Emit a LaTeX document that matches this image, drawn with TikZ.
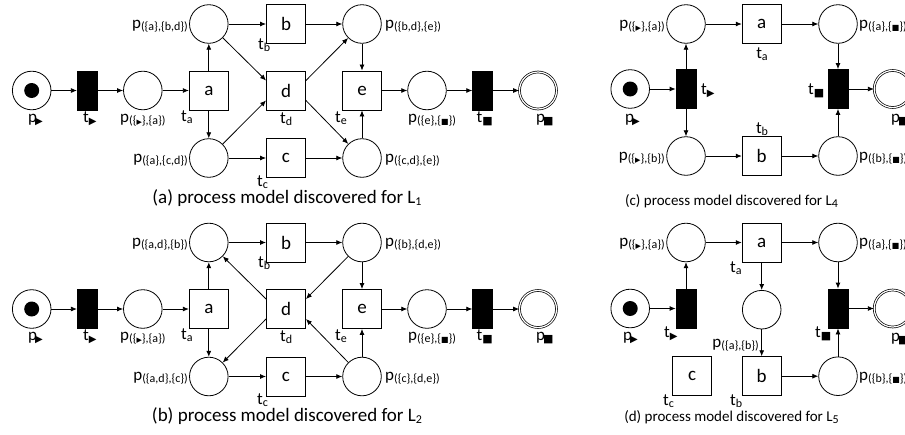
\documentclass[tikz,border=0pt]{standalone}
\usepackage{fontspec}
\setmainfont{Carlito}
\newfontfamily\symf{DejaVu Sans}
\usetikzlibrary{arrows.meta}
\newcommand\sbx[1]{\raisebox{-2pt}{\fontsize{12}{13}\selectfont #1}}
\newcommand\tri{{\symf\fontsize{7}{8}\selectfont ▶}}
\newcommand\trib{{\symf\fontsize{10}{11}\selectfont ▶}}
\newcommand\sqs{{\symf\fontsize{8}{9}\selectfont ■}}
\newcommand\sqb{{\symf\fontsize{11}{12}\selectfont ■}}
\tikzset{
  place/.style={circle, draw, line width=0.8pt, minimum size=38.6pt, inner sep=0pt},
  fin/.style={circle, draw, double, double distance=1.2pt, line width=0.7pt, minimum size=37pt, inner sep=0pt},
  token/.style={circle, fill=black, minimum size=15pt, inner sep=0pt},
  tr/.style={rectangle, draw, line width=0.9pt, minimum width=39pt, minimum height=39pt, inner sep=0pt, font=\fontsize{19}{22}\selectfont},
  btr/.style={rectangle, draw, fill=black, line width=0.8pt, minimum width=20pt, minimum height=39pt, inner sep=0pt},
  flow/.style={draw, line width=0.8pt, -{Latex[length=6pt,width=5pt]}},
  lbl/.style={inner sep=0pt, font=\fontsize{17}{20}\selectfont},
  capa/.style={inner sep=0pt, anchor=base, font=\fontsize{19}{22}\selectfont},
  capc/.style={inner sep=0pt, anchor=base, font=\fontsize{15}{18}\selectfont},
}
\begin{document}
\begin{tikzpicture}[x=1pt,y=-1pt]
\useasboundingbox (0,0) rectangle (905,434);
\clip (0,0) rectangle (905,434);

% ---------------- (a)
\node[place] (aps) at (31.7,90.5) {};
\node[token] (apst) at (aps) {};
\node[btr] (ats) at (87.3,90.5) {};
\node[place] (ap1) at (142.8,90.5) {};
\node[tr] (ata) at (208.8,90.5) {a};
\node[place] (ap2) at (208.8,24) {};
\node[place] (ap3) at (208.8,158) {};
\node[tr] (atb) at (286,24) {b};
\node[tr] (atd) at (286,90.5) {d};
\node[tr] (atc) at (286,158) {c};
\node[place] (ap4) at (362,24) {};
\node[place] (ap5) at (362,158) {};
\node[tr] (ate) at (362,90.5) {e};
\node[place] (ap6) at (427,90.5) {};
\node[btr] (atE) at (482.7,90.5) {};
\node[fin] (apE) at (538,90.5) {};

\draw[flow] (aps) -- (ats);
\draw[flow] (ats) -- (ap1);
\draw[flow] (ap1) -- (ata);
\draw[flow] (ata) -- (ap2);
\draw[flow] (ata) -- (ap3);
\draw[flow] (ap2) -- (atb);
\draw[flow] (ap3) -- (atc);
\draw[flow] (ap2) -- ([yshift=10pt]atd.west);
\draw[flow] (ap3) -- ([yshift=-10pt]atd.west);
\draw[flow] (atb) -- (ap4);
\draw[flow] (atc) -- (ap5);
\draw[flow] ([yshift=10pt]atd.east) -- (ap4);
\draw[flow] ([yshift=-10pt]atd.east) -- (ap5);
\draw[flow] (ap4) -- (ate);
\draw[flow] (ap5) -- (ate);
\draw[flow] (ate) -- (ap6);
\draw[flow] (ap6) -- (atE);
\draw[flow] (atE) -- (apE);

\node[lbl, anchor=base west] (alps) at (28,122) {p\kern-2pt\sbx{\trib}};
\node[lbl, anchor=base west] (alts) at (83,122) {t\sbx{\trib}};
\node[lbl, anchor=base west] (alp1) at (120,122) {p\sbx{(\{\tri\},\{a\})}};
\node[lbl, anchor=base east] (alp2) at (188,28) {p\sbx{(\{a\},\{b,d\})}};
\node[lbl, anchor=base east] (alp3) at (188,162) {p\sbx{(\{a\},\{c,d\})}};
\node[lbl, anchor=base west] (alta) at (181,121) {t\sbx{a}};
\node[lbl, anchor=base west] (altb) at (258,49) {t\sbx{b}};
\node[lbl, anchor=base west] (altd) at (280,123) {t\sbx{d}};
\node[lbl, anchor=base west] (altc) at (257,186) {t\sbx{c}};
\node[lbl, anchor=base west] (alp4) at (385,28) {p\sbx{(\{b,d\},\{e\})}};
\node[lbl, anchor=base west] (alp5) at (385,162) {p\sbx{(\{c,d\},\{e\})}};
\node[lbl, anchor=base west] (alte) at (335,122) {t\sbx{e}};
\node[lbl, anchor=base west] (alp6) at (408,122) {p\sbx{(\{e\},\{\sqs\})}};
\node[lbl, anchor=base west] (altE) at (476.5,122) {t\sbx{\sqb}};
\node[lbl, anchor=base west] (alpE) at (536,122) {p\kern-2pt\sbx{\sqb}};
\node[capa] (cap1) at (287,203) {(a) process model discovered for L\sbx{1}};

% ---------------- (b)
\begin{scope}[shift={(0,218.5)}]
\node[place] (bps) at (31.7,90.5) {};
\node[token] (bpst) at (bps) {};
\node[btr] (bts) at (87.3,90.5) {};
\node[place] (bp1) at (142.8,90.5) {};
\node[tr] (bta) at (208.8,90.5) {a};
\node[place] (bp2) at (208.8,24) {};
\node[place] (bp3) at (208.8,158) {};
\node[tr] (btb) at (286,24) {b};
\node[tr] (btd) at (286,90.5) {d};
\node[tr] (btc) at (286,158) {c};
\node[place] (bp4) at (362,24) {};
\node[place] (bp5) at (362,158) {};
\node[tr] (bte) at (362,90.5) {e};
\node[place] (bp6) at (427,90.5) {};
\node[btr] (btE) at (482.7,90.5) {};
\node[fin] (bpE) at (538,90.5) {};

\draw[flow] (bps) -- (bts);
\draw[flow] (bts) -- (bp1);
\draw[flow] (bp1) -- (bta);
\draw[flow] (bta) -- (bp2);
\draw[flow] (bta) -- (bp3);
\draw[flow] (bp2) -- (btb);
\draw[flow] (bp3) -- (btc);
\draw[flow] ([yshift=10pt]btd.west) -- (bp2);
\draw[flow] ([yshift=-10pt]btd.west) -- (bp3);
\draw[flow] (btb) -- (bp4);
\draw[flow] (btc) -- (bp5);
\draw[flow] (bp4) -- ([yshift=10pt]btd.east);
\draw[flow] (bp5) -- ([yshift=-10pt]btd.east);
\draw[flow] (bp4) -- (bte);
\draw[flow] (bp5) -- (bte);
\draw[flow] (bte) -- (bp6);
\draw[flow] (bp6) -- (btE);
\draw[flow] (btE) -- (bpE);

\node[lbl, anchor=base west] (blps) at (28,122) {p\kern-2pt\sbx{\trib}};
\node[lbl, anchor=base west] (blts) at (83,122) {t\sbx{\trib}};
\node[lbl, anchor=base west] (blp1) at (120,122) {p\sbx{(\{\tri\},\{a\})}};
\node[lbl, anchor=base east] (blp2) at (188,28) {p\sbx{(\{a,d\},\{b\})}};
\node[lbl, anchor=base east] (blp3) at (188,162) {p\sbx{(\{a,d\},\{c\})}};
\node[lbl, anchor=base west] (blta) at (181,121) {t\sbx{a}};
\node[lbl, anchor=base west] (bltb) at (258,49) {t\sbx{b}};
\node[lbl, anchor=base west] (bltd) at (280,123) {t\sbx{d}};
\node[lbl, anchor=base west] (bltc) at (257,186) {t\sbx{c}};
\node[lbl, anchor=base west] (blp4) at (385,28) {p\sbx{(\{b\},\{d,e\})}};
\node[lbl, anchor=base west] (blp5) at (385,162) {p\sbx{(\{c\},\{d,e\})}};
\node[lbl, anchor=base west] (blte) at (335,122) {t\sbx{e}};
\node[lbl, anchor=base west] (blp6) at (408,122) {p\sbx{(\{e\},\{\sqs\})}};
\node[lbl, anchor=base west] (bltE) at (476.5,122) {t\sbx{\sqb}};
\node[lbl, anchor=base west] (blpE) at (536,122) {p\kern-2pt\sbx{\sqb}};
\node[capa] (cap2) at (287,203) {(b) process model discovered for L\sbx{2}};
\end{scope}

% ---------------- (c)
\node[place] (cps) at (630.2,89) {};
\node[token] (cpst) at (cps) {};
\node[btr] (cts) at (686,89) {};
\node[place] (cpa) at (686,24) {};
\node[tr] (cta) at (761.7,24) {a};
\node[place] (cpb) at (838,24) {};
\node[btr] (ctE) at (838,89) {};
\node[fin] (cpE) at (892.7,89) {};
\node[place] (cpc) at (686,156) {};
\node[tr] (ctb) at (761.7,156) {b};
\node[place] (cpd) at (838,156) {};

\draw[flow] (cps) -- (cts);
\draw[flow] (cts) -- (cpa);
\draw[flow] (cts) -- (cpc);
\draw[flow] (cpa) -- (cta);
\draw[flow] (cta) -- (cpb);
\draw[flow] (cpb) -- (ctE);
\draw[flow] (cpc) -- (ctb);
\draw[flow] (ctb) -- (cpd);
\draw[flow] (cpd) -- (ctE);
\draw[flow] (ctE) -- (cpE);

\node[lbl, anchor=base east] (clpa) at (665,28) {p\sbx{(\{\tri\},\{a\})}};
\node[lbl, anchor=base east] (clpc) at (665,160) {p\sbx{(\{\tri\},\{b\})}};
\node[lbl, anchor=base] (clta) at (762,58) {t\sbx{a}};
\node[lbl, anchor=base] (cltb) at (762,133) {t\sbx{b}};
\node[lbl, anchor=base west] (clts) at (701,94) {t\sbx{\trib}};
\node[lbl, anchor=base west] (cltE) at (808,94) {t\sbx{\sqb}};
\node[lbl, anchor=base west] (clps) at (625,122) {p\kern-2pt\sbx{\trib}};
\node[lbl, anchor=base west] (clpE) at (891,122) {p\kern-2pt\sbx{\sqb}};
\node[lbl, anchor=base west] (clpb) at (859,28) {p\sbx{(\{a\},\{\sqs\})}};
\node[lbl, anchor=base west] (clpd) at (859,160) {p\sbx{(\{b\},\{\sqs\})}};
\node[capc] (cap3) at (731.5,205) {(c) process model discovered for L\sbx{4}};

% ---------------- (d)
\node[place] (dps) at (630.2,308.5) {};
\node[token] (dpst) at (dps) {};
\node[btr] (dts) at (686,308.5) {};
\node[place] (dpa) at (686,242.5) {};
\node[tr] (dta) at (761.7,242.5) {a};
\node[place] (dpb) at (838,242.5) {};
\node[place] (dpab) at (761.7,309.7) {};
\node[tr] (dtb) at (761.7,376.2) {b};
\node[tr] (dtc) at (692.2,376.2) {c};
\node[btr] (dtE) at (838,308.5) {};
\node[fin] (dpE) at (892.7,308.5) {};
\node[place] (dpd) at (838,376.2) {};

\draw[flow] (dps) -- (dts);
\draw[flow] (dts) -- (dpa);
\draw[flow] (dpa) -- (dta);
\draw[flow] (dta) -- (dpb);
\draw[flow] (dta) -- (dpab);
\draw[flow] (dpab) -- (dtb);
\draw[flow] (dpb) -- (dtE);
\draw[flow] (dtb) -- (dpd);
\draw[flow] (dpd) -- (dtE);
\draw[flow] (dtE) -- (dpE);

\node[lbl, anchor=base east] (dlpa) at (665,246.5) {p\sbx{(\{\tri\},\{a\})}};
\node[lbl, anchor=base west] (dlta) at (730,272) {t\sbx{a}};
\node[lbl, anchor=base east] (dlpab) at (759,347) {p\sbx{(\{a\},\{b\})}};
\node[lbl, anchor=base west] (dltb) at (730,405) {t\sbx{b}};
\node[lbl, anchor=base west] (dltc) at (663,405) {t\sbx{c}};
\node[lbl, anchor=base west] (dlts) at (664,337) {t\sbx{\trib}};
\node[lbl, anchor=base west] (dlps) at (623,340) {p\kern-2pt\sbx{\trib}};
\node[lbl, anchor=base west] (dltE) at (815,337) {t\sbx{\sqb}};
\node[lbl, anchor=base west] (dlpE) at (891,341) {p\kern-2pt\sbx{\sqb}};
\node[lbl, anchor=base west] (dlpb) at (859,246.5) {p\sbx{(\{a\},\{\sqs\})}};
\node[lbl, anchor=base west] (dlpd) at (859,380) {p\sbx{(\{b\},\{\sqs\})}};
\node[capc] (cap4) at (731.5,421) {(d) process model discovered for L\sbx{5}};
\end{tikzpicture}
\end{document}
